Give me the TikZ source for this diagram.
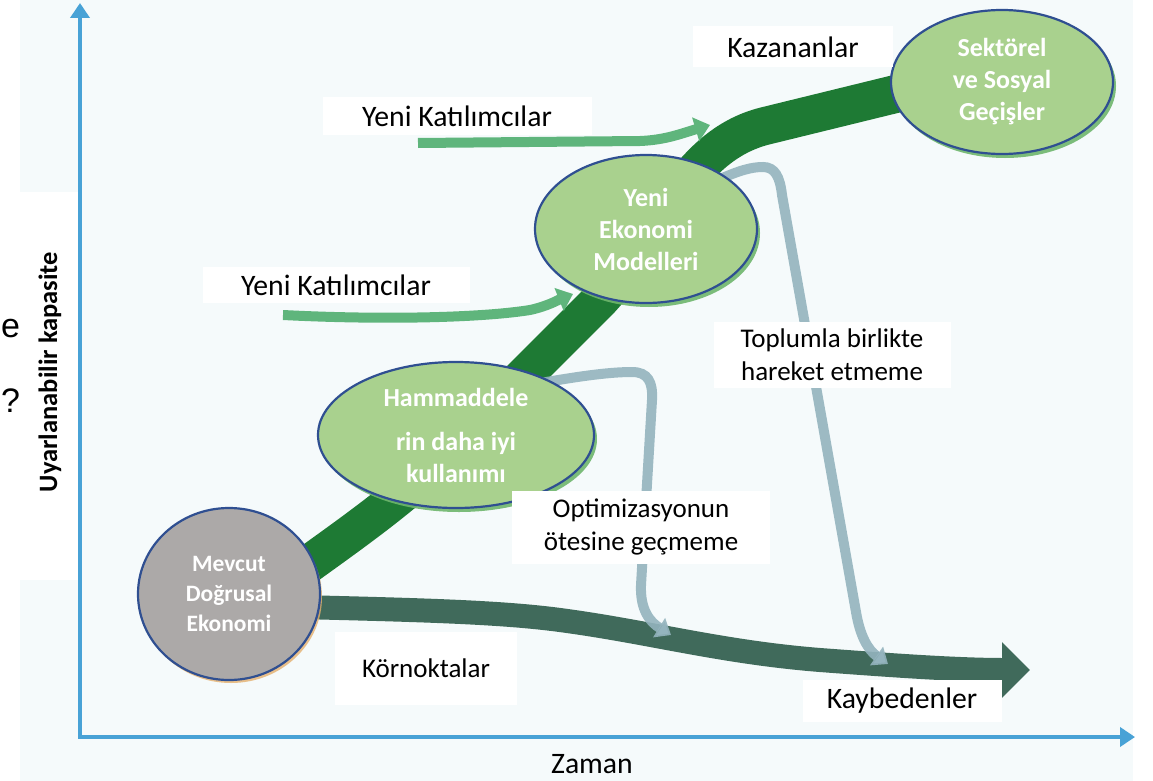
\documentclass[tikz,border=0pt]{standalone}
\usepackage{fontspec}
\setmainfont{Carlito}
\newfontfamily\fragfont{Liberation Sans}
\usetikzlibrary{arrows.meta,shapes.geometric,shadows}

\definecolor{bgtint}{RGB}{245,250,251}
\definecolor{axisblue}{RGB}{72,162,214}
\definecolor{bandgreen}{RGB}{30,122,52}
\definecolor{joingreen}{RGB}{95,181,124}
\definecolor{dropgray}{RGB}{148,180,190}
\definecolor{lossgreen}{RGB}{64,106,91}
\definecolor{ellfill}{RGB}{169,209,142}
\definecolor{ellgray}{RGB}{172,169,168}
\definecolor{ellborder}{RGB}{47,79,145}
\definecolor{ellshadow}{RGB}{110,182,108}
\definecolor{grayshadow}{RGB}{228,176,110}

\pgfdeclarelayer{back}
\pgfdeclarelayer{flows}
\pgfsetlayers{back,flows,main}

\begin{document}
\begin{tikzpicture}[x=1pt,y=-1pt,
  stage/.style={ellipse, draw=ellborder, line width=2.2pt, fill=ellfill,
    inner sep=0pt, text=white, align=center,
    font=\bfseries\fontsize{26}{32}\selectfont},
  greenstage/.style={stage,
    drop shadow={shadow xshift=3pt, shadow yshift=-4pt, fill=ellshadow, opacity=0.9}},
  tag/.style={fill=white, inner sep=0pt, align=center,
    font=\fontsize{29.7}{34}\selectfont},
  tagsmall/.style={tag, font=\fontsize{27}{33}\selectfont},
  axisline/.style={draw=axisblue, line width=4pt,
    arrows={Triangle[length=15pt,width=19pt]-Triangle[length=15pt,width=19pt]}},
  band/.style={draw=bandgreen, line width=38pt},
  losspath/.style={draw=lossgreen, line width=24pt,
    arrows={-Triangle[length=28pt,width=54pt]}},
  joinflow/.style={draw=joingreen, line width=10pt,
    arrows={-Triangle[length=15pt,width=24pt]}},
  dropflow/.style={draw=dropgray, line width=10pt, draw opacity=0.9,
    arrows={-Triangle[length=14pt,width=22pt]}},
  fragment/.style={anchor=west, inner sep=0pt, font=\fragfont\fontsize{34}{40}\selectfont},
]
\useasboundingbox (0,0) rectangle (1153,781);

% canvas
\begin{pgfonlayer}{back}
  \fill[white] (0,0) rectangle (1153,781);
  \fill[bgtint] (20,0) rectangle (1133,781);
  \fill[white] (20,192) rectangle (78,580);
\end{pgfonlayer}

% stages
\node[stage, fill=ellgray, minimum width=182pt, minimum height=172pt,
  font=\bfseries\fontsize{23.5}{30}\selectfont,
  drop shadow={shadow xshift=2pt, shadow yshift=-3pt, fill=grayshadow, opacity=0.8}]
  (mev) at (229,594) {Mevcut\\Doğrusal\\Ekonomi};
\node[greenstage, minimum width=276pt, minimum height=146pt]
  (ham) at (456,435) {Hammaddele\\[12pt]rin daha iyi\\kullanımı};
\node[greenstage, minimum width=222pt, minimum height=148pt]
  (yeni) at (646,229) {Yeni\\Ekonomi\\Modelleri};
\node[greenstage, minimum width=222pt, minimum height=144pt]
  (sek) at (1002,82) {Sektörel\\ve Sosyal\\Geçişler};

% free ends
\coordinate (ytip) at (80,3);
\coordinate (origin) at (80,737);
\coordinate (xtip) at (1135,737);
\coordinate (lossend) at (1030,670);
\coordinate (optend) at (671,635);
\coordinate (socend) at (888,664);
\coordinate (joinA) at (418,143);
\coordinate (joinAend) at (710,125);
\coordinate (joinB) at (283,315);
\coordinate (joinBend) at (573,294);

\begin{pgfonlayer}{flows}
  % axes
  \draw[axisline] (ytip) -- (origin) -- (xtip);
  % losers' path
  \draw[losspath] (mev.center) -- (300,607)
    .. controls (420,610) and (500,612) .. (560,620)
    .. controls (650,632) and (720,652) .. (820,660)
    .. controls (900,666) and (960,670) .. (lossend);
  % winners' band
  \draw[band] (mev.center) -- (280,585)
    .. controls (330,548) and (380,515) .. (430,470) -- (600,300)
    .. controls (660,235) and (685,146) .. (765,126) -- (920,88) -- (sek.center);
  % drop-outs
  \draw[dropflow] (ham.center) -- (535,384)
    .. controls (580,376) and (610,372) .. (632,372)
    .. controls (648,372) and (653,382) .. (652,400) -- (641,585)
    .. controls (640,610) and (650,622) .. (optend);
  \draw[dropflow] (yeni.center) -- (718,180)
    .. controls (740,170) and (752,167) .. (763,167)
    .. controls (775,167) and (780,177) .. (782,195) -- (856,612)
    .. controls (860,636) and (868,650) .. (socend);
  % newcomers
  \draw[joinflow] (joinA) -- (640,141)
    .. controls (665,140) and (680,134) .. (joinAend);
  \draw[joinflow] (joinB) .. controls (380,320) and (480,318) .. (530,310)
    .. controls (548,306) and (558,300) .. (joinBend);
\end{pgfonlayer}

% labels
\node[tag, minimum width=269pt, minimum height=37pt] (lblA) at (457,116) {Yeni Katılımcılar};
\node[tag, minimum width=267pt, minimum height=36pt] (lblB) at (336,285) {Yeni Katılımcılar};
\node[tag, minimum width=200pt, minimum height=41pt] (lblWin) at (793,47) {Kazananlar};
\node[tagsmall, minimum width=182pt, minimum height=73pt] (lblCorn) at (426,668) {Körnoktalar};
\node[tag, minimum width=199pt, minimum height=42pt] (lblLose) at (902,701) {Kaybedenler};
\node[tagsmall, minimum width=258pt, minimum height=73pt] (lblOpt) at (641,527) {Optimizasyonun\\ötesine geçmeme};
\node[tagsmall, minimum width=237pt, minimum height=66pt] (lblSoc) at (832,355) {Toplumla birlikte\\hareket etmeme};
\node[font=\fontsize{29.7}{34}\selectfont, inner sep=0pt] (lblTime) at (592,764) {Zaman};
\node[rotate=90, font=\bfseries\fontsize{26.5}{32}\selectfont, inner sep=0pt] (lblCap) at (50,372) {Uyarlanabilir kapasite};
\node[fragment] (fragE) at (1,329) {e};
\node[fragment] (fragQ) at (1,401) {?};
\end{tikzpicture}
\end{document}
